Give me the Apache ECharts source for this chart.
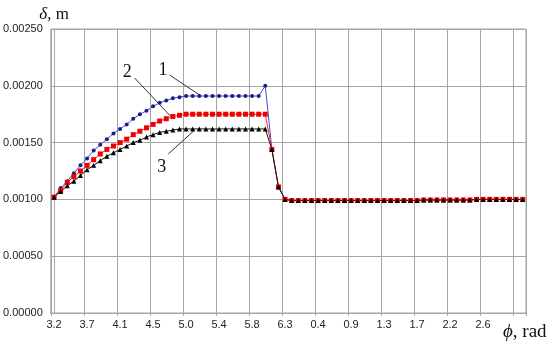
<!DOCTYPE html>
<html>
<head>
<meta charset="utf-8">
<script src="https://cdn.jsdelivr.net/npm/echarts@6/dist/echarts.min.js"></script>
<style>
  html, body { margin: 0; padding: 0; background: #fff; }
  #container { width: 550px; height: 344px; }
</style>
</head>
<body>
<div id="container"></div>
<script>
// tick labels every 5th point (angle, rad)
var tickLabels = ['3.2', '3.7', '4.1', '4.5', '5.0', '5.4', '5.8', '6.3', '0.4', '0.9', '1.3', '1.7', '2.2', '2.6'];

// curve 1 (blue), points 0..32
var head1 = [0.00102, 0.00110, 0.00116, 0.00123, 0.00130, 0.00136, 0.00143, 0.00148, 0.00153, 0.00158,
             0.00162, 0.00166, 0.00171, 0.00175, 0.00178, 0.00182, 0.00185, 0.00187, 0.00189, 0.00190,
             0.00191, 0.00191, 0.00191, 0.00191, 0.00191, 0.00191, 0.00191, 0.00191, 0.00191, 0.00191,
             0.00191, 0.00191, 0.00200];
// curve 2 (red)
var head2 = [0.00102, 0.00108, 0.00115, 0.00120, 0.00125, 0.00130, 0.00135, 0.00140, 0.00144, 0.00147,
             0.00150, 0.00153, 0.00157, 0.00160, 0.00163, 0.00166, 0.00169, 0.00171, 0.00173, 0.00174,
             0.00175, 0.00175, 0.00175, 0.00175, 0.00175, 0.00175, 0.00175, 0.00175, 0.00175, 0.00175,
             0.00175, 0.00175, 0.00175];
// curve 3 (black)
var head3 = [0.00102, 0.00107, 0.00112, 0.00116, 0.00121, 0.00126, 0.00130, 0.00134, 0.00138, 0.00141,
             0.00144, 0.00147, 0.00150, 0.00152, 0.00155, 0.00157, 0.00159, 0.00160, 0.00161, 0.00162,
             0.00162, 0.00162, 0.00162, 0.00162, 0.00162, 0.00162, 0.00162, 0.00162, 0.00162, 0.00162,
             0.00162, 0.00162, 0.00162];
// common part, points 33..71
var tail = [0.00144, 0.00111, 0.00100,
            0.00099, 0.00099, 0.00099, 0.00099, 0.00099, 0.00099, 0.00099, 0.00099, 0.00099, 0.00099,
            0.00099, 0.00099, 0.00099, 0.00099, 0.00099, 0.00099, 0.00099, 0.00099, 0.00099, 0.00099,
            0.000995, 0.000995, 0.000995, 0.000995, 0.000995, 0.000995, 0.000995, 0.000995,
            0.00100, 0.00100, 0.00100, 0.00100, 0.00100, 0.00100, 0.00100, 0.00100];

// curve labels: text position and leader line (x in point index, y in m)
var annoNames = ['1', '2', '3'];
var annoText = [[16.5, 0.00214], [11.1, 0.00212], [16.3, 0.00128]];
var annoFrom = [[17.5, 0.002095], [12.2, 0.002069], [17.3, 0.00140]];
var annoTo = [[22.2, 0.001913], [17.9, 0.001717], [21.1, 0.00160]];

var y1 = head1.concat(tail);
var y2 = head2.concat(tail);
var y3 = head3.concat(tail);
var cats = [];
for (var i = 0; i < y1.length; i++) cats.push(String(i));

var dom = document.getElementById('container');
var myChart = echarts.init(dom);
var gridColor = '#a6a6a6';

var option = {
    animation: false,
    grid: { left: 50, top: 29, right: 24, bottom: 31, show: true, borderColor: gridColor, borderWidth: 1 },
    xAxis: [{
        type: 'category',
        data: cats,
        boundaryGap: true,
        axisLine: { lineStyle: { color: gridColor } },
        axisTick: { show: true, interval: 4, length: 3, lineStyle: { color: gridColor } },
        axisLabel: {
            interval: 4, margin: 6, color: '#222', fontSize: 11, fontFamily: 'Liberation Sans',
            formatter: function (v, idx) { return tickLabels[idx / 5] || ''; }
        },
        splitLine: { show: true, interval: 4, lineStyle: { color: gridColor, width: 1 } }
    }, {
        type: 'value', min: -0.5, max: 71.5, show: false
    }],
    yAxis: {
        type: 'value',
        min: 0, max: 0.0025, interval: 0.0005,
        name: '{i|δ}{n|, m}',
        nameLocation: 'end',
        nameGap: 6,
        nameTextStyle: {
            rich: {
                i: { fontFamily: 'Liberation Serif', fontStyle: 'italic', fontSize: 17, color: '#111' },
                n: { fontFamily: 'Liberation Serif', fontSize: 17, color: '#111' }
            }
        },
        axisLine: { show: true, lineStyle: { color: gridColor } },
        axisTick: { show: true, length: 3, lineStyle: { color: gridColor } },
        axisLabel: {
            margin: 8, color: '#222', fontSize: 11, fontFamily: 'Liberation Sans',
            formatter: function (v) { return v.toFixed(5); }
        },
        splitLine: { lineStyle: { color: gridColor, width: 1 } }
    },
    series: [{
        name: '1', type: 'line', data: y1,
        symbol: 'circle', symbolSize: 4, showAllSymbol: true,
        lineStyle: { color: '#4a4ac8', width: 1 },
        itemStyle: { color: '#1c1c8a' }
    }, {
        name: '2', type: 'line', data: y2,
        symbol: 'rect', symbolSize: 5, showAllSymbol: true,
        lineStyle: { color: '#ff2a2a', width: 1 },
        itemStyle: { color: '#f00000' }
    }, {
        name: '3', type: 'line', data: y3,
        symbol: 'triangle', symbolSize: 5, showAllSymbol: true,
        lineStyle: { color: '#111', width: 1 },
        itemStyle: { color: '#000' }
    }]
};

if (option && typeof option === 'object') {
    myChart.setOption(option);
}

// curve labels and leader lines, placed through the axes
function px(p) {
    return [myChart.convertToPixel({ xAxisIndex: 1 }, p[0]), myChart.convertToPixel({ yAxisIndex: 0 }, p[1])];
}
var graphics = [];
for (var k = 0; k < annoNames.length; k++) {
    var a = px(annoFrom[k]), b = px(annoTo[k]), t = px(annoText[k]);
    graphics.push({
        type: 'line',
        shape: { x1: a[0], y1: a[1], x2: b[0], y2: b[1] },
        style: { stroke: '#333', lineWidth: 1 }
    });
    graphics.push({
        type: 'text', x: t[0], y: t[1],
        style: { text: annoNames[k], fontFamily: 'Liberation Serif', fontSize: 18, fill: '#111', align: 'center', verticalAlign: 'middle' }
    });
}
graphics.push({
    type: 'text', x: 503, y: 332,
    style: {
        text: '{i|ϕ}{n|, rad}', verticalAlign: 'middle',
        rich: {
            i: { fontFamily: 'Liberation Serif', fontStyle: 'italic', fontSize: 19, fill: '#111' },
            n: { fontFamily: 'Liberation Serif', fontSize: 19, fill: '#111' }
        }
    }
});
myChart.setOption({ graphic: graphics });
</script>
</body>
</html>
